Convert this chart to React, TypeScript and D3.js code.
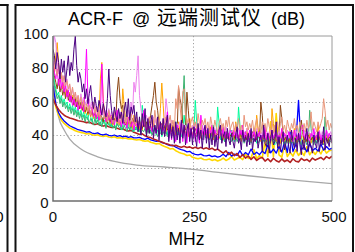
import * as d3 from 'd3';

const WIDTH = 355;
const HEIGHT = 252;
const MARGIN = { top: 36, right: 23, bottom: 51, left: 53 };
const FONT = "'Liberation Sans', Arial, 'Noto Sans CJK SC', sans-serif";

const TITLE_PARTS = ['ACR-F', '@', '远端测试仪', '(dB)'];
const X_LABEL = 'MHz';

const F_MAX = 500; // every trace runs evenly from 0 to F_MAX MHz
const X_TICKS = [0, 250, 500];
const Y_TICKS = [0, 20, 40, 60, 80, 100];
const GRID_X = [250];
const GRID_Y = [20, 40, 60, 80];

// limit line (gray)
const LIMIT_F = [0.5, 3, 10, 20, 30, 50, 80, 110, 150, 200, 250, 300, 350, 400, 450, 500];
const LIMIT_DB = [80, 66, 51, 43, 37.5, 31.5, 26.8, 24, 21.8, 20.6, 19.2, 17.2, 15.3, 13.6, 12, 10.5];

// lower, smoother traces: one value every 5 MHz
const GOLD = [68, 57, 52, 49, 47, 45.5, 44.2, 43.5, 42.6, 42, 41.6, 41.2, 40.6, 40.9, 40.1, 39.8, 40.2, 39.4, 39.1, 39.5, 38.8, 38.5, 38.9, 38.2, 38.4, 37.9, 38.2, 37.6, 37.8, 37.3, 37, 37.3, 36.6, 36.2, 36.5, 35.6, 35.1, 34.6, 34.9, 33.8, 33, 32.4, 31.5, 31.8, 30.5, 29.6, 29, 28.5, 27.6, 27.9, 26.5, 26, 25.6, 26.1, 25.2, 25, 25.5, 24.6, 25.1, 24.3, 24.8, 26, 24.6, 25.4, 27, 24.9, 25.7, 26.5, 25.1, 28.5, 25.8, 26.3, 31, 25.7, 27.5, 26.2, 36, 27, 48, 26.8, 53, 28, 26.5, 34, 27, 29.5, 27.2, 31, 27.6, 30, 27.5, 33, 28, 30.5, 28.2, 31, 28.6, 32, 29, 30.5, 31];
const BLUE = [70, 59, 53.5, 50.5, 48.5, 47, 45.6, 44.8, 44, 43.2, 42.8, 42.3, 41.8, 42, 41.2, 40.9, 41.3, 40.4, 40.1, 40.6, 39.8, 39.5, 40, 39.2, 39.6, 38.9, 39.3, 38.6, 39, 38.3, 38.2, 38.6, 37.8, 37.4, 38.1, 37, 36.6, 36.1, 36.5, 35.4, 35, 34.2, 33.6, 33.8, 32.6, 31.8, 31.2, 30.7, 29.8, 30.1, 28.8, 28.2, 27.9, 28.4, 27.5, 27.3, 27.8, 26.9, 27.4, 26.6, 27.1, 28.3, 26.9, 29.5, 27.2, 28.4, 27.6, 30.5, 27.5, 29.4, 28, 31.5, 28.2, 29.6, 28.1, 30.2, 28.8, 34, 29.2, 31.5, 29, 33, 29.6, 36, 29.4, 42, 30, 34, 61, 31, 33, 29.8, 35, 30.4, 32, 30.2, 34.5, 30.8, 33, 31.2, 32];
const FIREBRICK = [62, 58, 55.5, 53.5, 52, 51, 50.3, 49.8, 49.2, 48.6, 48.3, 48, 47.5, 47.8, 47, 46.4, 46.8, 45.9, 45.4, 45.8, 45, 44.6, 44.9, 44.1, 43.5, 43.8, 42.9, 42.4, 42.8, 41.6, 41, 40.3, 40.7, 39.5, 38.8, 38.4, 37.6, 37, 36.2, 35.8, 35, 34.6, 34, 33.5, 33.8, 33, 32.6, 33.2, 32.4, 32.8, 32, 32.6, 31.8, 32.5, 31.6, 32.2, 31.4, 32, 30.8, 31.5, 30.2, 29, 30.4, 28.1, 29.6, 27.5, 28.8, 26.4, 28.2, 26, 27.3, 25.2, 26.8, 24.6, 25.9, 26.4, 24.2, 25.6, 23.8, 25.9, 24.4, 23.6, 25.5, 23.9, 24.8, 23.4, 25.6, 24.1, 23.7, 25.8, 24.6, 25.2, 23.9, 26, 24.8, 25.6, 26.4, 25, 26.9, 25.8, 27.2];

// noisy upper traces: one value every 2.5 MHz
const SPRING = [
  78, 72, 68, 64, 66, 61, 64, 59, 62, 58, 60, 56, 59, 55, 58, 54, 57, 53, 56, 52,
  55, 51, 54, 50, 53, 49, 55, 51, 48, 52, 50, 47, 51, 48, 46, 50, 47, 49, 45, 48,
  46, 49, 45, 52, 47, 44, 48, 45, 47, 43, 46, 55, 48, 44, 47, 43, 46, 44, 42, 45,
  43, 46, 42, 45, 58, 50, 44, 47, 42, 45, 41, 44, 42, 46, 40, 43, 41, 45, 39, 44,
  41, 43, 40, 46, 42, 39, 44, 41, 48, 42, 40, 43, 39, 42, 52, 45, 40, 43, 38, 42,
  39, 43, 61, 48, 41, 38, 43, 40, 37, 42, 38, 41, 37, 42, 39, 46, 40, 37, 57, 48,
  37, 41, 39, 36, 42, 38, 40, 37, 43, 39, 36, 40, 38, 57, 46, 37, 40, 36, 42, 38,
  39, 36, 41, 37, 44, 38, 35, 40, 37, 39, 35, 41, 38, 36, 39, 35, 40, 37, 39, 34,
  43, 38, 35, 39, 36, 38, 34, 40, 36, 38, 35, 39, 37, 40, 35, 38, 36, 47, 40, 35,
  39, 36, 42, 37, 35, 38, 36, 40, 37, 35, 40, 37, 39, 36, 38, 41, 37, 39, 36, 38, 37,
];
const SEAGREEN = [
  75, 70, 66, 62, 64, 59, 62, 57, 60, 56, 58, 54, 57, 53, 56, 52, 55, 51, 54, 50,
  53, 49, 52, 48, 51, 50, 47, 50, 49, 46, 50, 47, 49, 46, 48, 45, 49, 47, 44, 48,
  47, 45, 48, 44, 46, 43, 47, 45, 44, 46, 43, 46, 44, 42, 45, 43, 46, 42, 44, 43,
  45, 42, 44, 41, 43, 42, 44, 40, 43, 41, 43, 40, 42, 44, 41, 39, 43, 41, 40, 42,
  40, 42, 39, 41, 43, 40, 42, 38, 41, 40, 42, 39, 45, 60, 76, 52, 41, 43, 39, 42,
  40, 38, 41, 39, 42, 38, 40, 37, 41, 39, 38, 40, 37, 39, 41, 38, 40, 36, 39, 38,
  40, 37, 39, 36, 40, 38, 37, 39, 36, 38, 37, 39, 36, 38, 40, 37, 39, 35, 38, 37,
  36, 38, 35, 39, 37, 36, 38, 35, 37, 39, 35, 37, 36, 38, 34, 37, 36, 38, 35, 37,
  36, 34, 37, 35, 38, 36, 34, 37, 35, 36, 37, 35, 36, 34, 38, 35, 37, 36, 34, 37,
  35, 37, 34, 36, 55, 44, 36, 34, 37, 35, 36, 38, 35, 37, 34, 51, 42, 35, 37, 36, 36,
];
const ORANGE = [
  82, 78, 88, 96, 84, 72, 76, 68, 72, 64, 68, 63, 66, 61, 64, 59, 63, 58, 62, 56,
  60, 55, 59, 53, 57, 52, 56, 51, 55, 50, 54, 50, 53, 49, 74, 84, 62, 52, 48, 53,
  51, 47, 50, 46, 49, 52, 47, 50, 46, 48, 68, 58, 50, 46, 49, 45, 48, 44, 52, 46,
  45, 48, 44, 47, 43, 49, 45, 43, 47, 44, 46, 43, 50, 44, 42, 46, 43, 56, 71.5, 58,
  44, 42, 46, 43, 41, 45, 42, 44, 40, 45, 48, 42, 44, 40, 43, 41, 45, 39, 50, 44,
  40, 43, 39, 42, 46, 40, 38, 42, 40, 44, 39, 42, 38, 45, 40, 37, 41, 39, 43, 38,
  41, 44, 37, 40, 38, 42, 37, 40, 39, 43, 37, 48, 42, 38, 40, 36, 41, 39, 37, 44,
  38, 40, 36, 39, 41, 37, 52, 44, 38, 36, 39, 37, 43, 36, 40, 38, 35, 56, 47, 39,
  36, 39, 37, 35, 42, 38, 36, 39, 37, 35, 40, 36, 38, 44, 37, 35, 39, 36, 38, 41,
  35, 38, 36, 37, 41, 35, 38, 36, 39, 37, 46, 40, 36, 38, 35, 37, 39, 36, 40, 38, 35,
];
const BROWN = [
  80, 76, 72, 68, 74, 66, 70, 64, 68, 62, 67, 61, 65, 60, 63, 58, 62, 57, 61, 56,
  60, 55, 58, 54, 57, 53, 56, 52, 55, 51, 54, 50, 53, 49, 52, 51, 48, 53, 50, 47,
  52, 48, 51, 47, 50, 49, 66, 75, 62, 56, 58, 48, 46, 51, 47, 49, 45, 50, 48, 46,
  49, 45, 48, 46, 44, 47, 45, 48, 43, 47, 52, 58, 64, 72, 60, 55, 46, 44, 47, 43,
  45, 47, 43, 46, 44, 42, 46, 43, 45, 42, 69, 62, 58, 47, 45, 43, 66, 55, 44, 42,
  45, 42, 44, 41, 43, 40, 44, 41, 42, 40, 43, 41, 44, 40, 42, 39, 43, 41, 40, 42,
  40, 43, 39, 41, 42, 38, 41, 40, 39, 42, 38, 41, 40, 37, 42, 39, 41, 38, 40, 37,
  41, 39, 38, 42, 39, 40, 37, 41, 38, 60, 52, 38, 40, 37, 41, 39, 38, 40, 37, 39,
  41, 38, 36, 58, 50, 40, 37, 39, 38, 36, 40, 37, 39, 38, 36, 40, 37, 39, 49, 42,
  37, 39, 36, 40, 38, 37, 39, 36, 38, 40, 36, 39, 37, 38, 36, 40, 37, 35, 39, 38, 37,
];
const VIOLET = [
  92, 100, 96, 84, 77, 82, 70, 76, 72, 68, 74, 66, 70, 64, 68, 62, 66, 61, 64, 59,
  65, 60, 63, 58, 61, 57, 62, 56, 60, 55, 59, 54, 57, 53, 58, 52, 56, 51, 55, 53,
  56, 51, 54, 50, 55, 49, 52, 50, 54, 48, 53, 49, 51, 48, 55, 50, 60, 52, 72, 66,
  76, 88, 64, 56, 50, 53, 48, 52, 47, 51, 48, 46, 51, 47, 50, 45, 49, 47, 44, 50,
  46, 62, 55, 47, 44, 49, 46, 48, 43, 47, 45, 48, 43, 47, 44, 46, 42, 48, 45, 43,
  46, 43, 47, 42, 45, 44, 41, 46, 43, 45, 41, 45, 43, 40, 46, 42, 44, 41, 43, 39,
  44, 41, 43, 40, 45, 42, 39, 44, 41, 43, 40, 42, 39, 44, 41, 43, 38, 42, 40, 44,
  41, 39, 43, 40, 42, 38, 44, 41, 39, 42, 40, 43, 38, 41, 42, 39, 44, 40, 38, 42,
  41, 39, 43, 40, 38, 42, 41, 39, 43, 40, 38, 42, 41, 39, 44, 40, 38, 42, 41, 39,
  43, 40, 38, 42, 41, 39, 44, 40, 42, 39, 41, 43, 38, 42, 40, 39, 43, 41, 39, 42, 40,
];
const MAGENTA = [
  85, 78, 74, 80, 70, 76, 68, 72, 66, 70, 63, 67, 60, 64, 58, 62, 57, 61, 55, 59,
  56, 60, 54, 70, 92, 64, 55, 52, 57, 51, 55, 50, 54, 49, 53, 83, 60, 51, 48, 53,
  49, 52, 47, 51, 46, 50, 55, 47, 49, 45, 50, 46, 48, 44, 51, 47, 45, 49, 43, 48,
  46, 44, 49, 43, 47, 55, 45, 42, 48, 44, 46, 42, 47, 44, 41, 46, 43, 48, 42, 45,
  40, 47, 54, 38, 46, 37, 45, 41, 36, 46, 44, 37, 47, 36, 45, 40, 35, 46, 38, 44,
  38, 45, 36, 44, 40, 35, 52, 43, 37, 45, 42, 38, 44, 41, 46, 39, 43, 40, 37, 44,
  41, 39, 45, 38, 42, 40, 37, 43, 41, 39, 44, 38, 41, 37, 43, 40, 46, 38, 42, 39,
  37, 43, 40, 38, 44, 36, 41, 39, 42, 37, 40, 38, 45, 37, 41, 39, 36, 43, 38, 40,
  42, 37, 40, 38, 44, 36, 41, 39, 37, 42, 38, 40, 36, 43, 39, 37, 41, 38, 45, 46,
  40, 37, 42, 38, 36, 41, 39, 44, 37, 40, 38, 42, 36, 40, 39, 37, 43, 38, 41, 39, 40,
];
const SALMON = [
  88, 84, 80, 76, 82, 74, 78, 72, 76, 70, 73, 68, 71, 64, 69, 62, 66, 60, 64, 58,
  63, 57, 61, 55, 59, 54, 58, 52, 56, 60, 53, 57, 51, 55, 49, 54, 58, 50, 53, 48,
  55, 50, 52, 47, 54, 49, 51, 46, 53, 48, 50, 56, 47, 52, 49, 45, 53, 48, 51, 46,
  51, 47, 49, 45, 52, 46, 50, 44, 48, 51, 46, 49, 45, 55, 48, 44, 50, 46, 43, 49,
  47, 51, 44, 48, 52, 45, 49, 43, 62, 56, 70, 58, 49, 66, 68, 52, 47, 50, 44, 48,
  51, 45, 48, 44, 53, 47, 43, 49, 46, 50, 44, 48, 42, 51, 46, 43, 49, 45, 41, 47,
  50, 44, 47, 42, 49, 45, 51, 43, 46, 48, 42, 47, 44, 50, 43, 46, 41, 52, 45, 48,
  43, 47, 44, 49, 42, 46, 50, 43, 45, 41, 48, 44, 47, 42, 50, 45, 43, 49, 41, 46,
  44, 48, 42, 47, 51, 43, 46, 41, 49, 45, 42, 47, 44, 50, 43, 46, 41, 48, 45, 43,
  47, 42, 49, 44, 46, 54, 43, 48, 45, 42, 48, 44, 47, 50, 62, 55, 45, 49, 43, 47, 44,
];
const INDIGO = [
  92, 88, 80, 90, 84, 74, 86, 78, 85, 72, 80, 88, 76, 84, 79, 92, 100, 82, 72, 78,
  74, 66, 71, 62, 68, 59, 65, 70, 61, 56, 63, 58, 54, 61, 57, 52, 59, 55, 51, 62,
  80, 64, 55, 49, 57, 52, 48, 56, 50, 54, 47, 55, 60, 51, 62, 49, 57, 53, 58, 48,
  54, 42, 51, 40, 53, 45, 56, 39, 50, 41, 47, 52, 38, 46, 41, 51, 37, 48, 40, 50,
  39, 46, 52, 36, 47, 38, 45, 35, 48, 37, 44, 35, 49, 38, 46, 34, 43, 47, 36, 44,
  34, 45, 39, 33, 47, 37, 43, 32, 42, 46, 35, 44, 32, 41, 34, 45, 33, 40, 31, 43,
  46, 35, 39, 42, 33, 44, 37, 34, 41, 36, 32, 40, 45, 35, 38, 31, 43, 36, 39, 33,
  41, 34, 44, 31, 38, 36, 42, 32, 37, 40, 30, 46, 35, 33, 41, 29, 38, 43, 34, 36,
  48, 32, 39, 30, 37, 42, 31, 35, 40, 33, 29, 43, 36, 32, 38, 30, 41, 34, 28, 37,
  31, 39, 44, 30, 36, 33, 29, 40, 35, 32, 42, 30, 37, 34, 45, 31, 38, 36, 33, 40, 35,
];

const SERIES = [
  { color: '#ffd700', values: GOLD, width: 1.6 },
  { color: '#0000ff', values: BLUE, width: 1.3 },
  { color: '#b22222', values: FIREBRICK, width: 1.6 },
  { color: '#00fa9a', values: SPRING, width: 1 },
  { color: '#3cb371', values: SEAGREEN, width: 1 },
  { color: '#ffa500', values: ORANGE, width: 1 },
  { color: '#8b4513', values: BROWN, width: 1 },
  { color: '#ee82ee', values: VIOLET, width: 1 },
  { color: '#ff00ff', values: MAGENTA, width: 1 },
  { color: '#e9967a', values: SALMON, width: 1 },
  { color: '#4b0082', values: INDIGO, width: 1 },
];

export default function App() {
  const x = d3.scaleLinear().domain([0, F_MAX]).range([MARGIN.left, WIDTH - MARGIN.right]);
  const y = d3.scaleLinear().domain([0, 100]).range([HEIGHT - MARGIN.bottom, MARGIN.top]);
  // tick labels sit a little wider apart than the ticks
  const yLabel = d3.scaleLinear().domain([0, 100]).range([203, 33.5]);
  const x0 = MARGIN.left;
  const x1 = WIDTH - MARGIN.right;
  const y0 = HEIGHT - MARGIN.bottom;
  const y1 = MARGIN.top;

  const trace = (values: number[]) => {
    const step = F_MAX / (values.length - 1);
    return d3.line<number>()
      .x((_, i) => x(i * step))
      .y((d) => y(d))(values) || '';
  };

  const limit = d3.line<number>()
    .x((_, i) => x(LIMIT_F[i]))
    .y((d) => y(d))
    .curve(d3.curveMonotoneX);

  return (
    <svg
      width={WIDTH}
      height={HEIGHT}
      style={{ position: 'absolute', left: 0, top: 0, background: '#fff' }}
      fontFamily={FONT}
    >
      <defs>
        <clipPath id="plot">
          <rect x={x0} y={y1} width={x1 - x0} height={y0 - y1} />
        </clipPath>
      </defs>

      {/* neighbouring panel edge */}
      <line x1={7.5} x2={7.5} y1={4} y2={HEIGHT} stroke="#111" strokeWidth={2} />
      <line x1={0} x2={8.5} y1={5} y2={5} stroke="#111" strokeWidth={2} />
      <text x={3.5} y={221.5} fontSize={15} textAnchor="end">500</text>

      {/* panel frame */}
      <path d={`M15.5,${HEIGHT + 2}V5H353V${HEIGHT + 2}`} fill="none" stroke="#111" strokeWidth={2} />

      <text y={25} fontSize={18}>
        <tspan x={68}>{TITLE_PARTS[0]}</tspan>
        <tspan x={132}>{TITLE_PARTS[1]}</tspan>
        <tspan x={157} fontSize={20} letterSpacing={1}>{TITLE_PARTS[2]}</tspan>
        <tspan x={271}>{TITLE_PARTS[3]}</tspan>
      </text>

      <g stroke="#a0a0a0" strokeWidth={1} strokeDasharray="1.2,2.3">
        {GRID_Y.map((v) => (
          <line key={v} x1={x0} x2={x1} y1={Math.round(y(v)) + 0.5} y2={Math.round(y(v)) + 0.5} />
        ))}
        {GRID_X.map((v) => (
          <line key={v} x1={Math.round(x(v)) + 0.5} x2={Math.round(x(v)) + 0.5} y1={y1} y2={y0} />
        ))}
      </g>

      <g clipPath="url(#plot)" fill="none" strokeLinejoin="round">
        <path d={limit(LIMIT_DB) || ''} stroke="#a8a8a8" strokeWidth={1.3} />
        {SERIES.map((s) => (
          <path key={s.color} d={trace(s.values)} stroke={s.color} strokeWidth={s.width} />
        ))}
      </g>

      <path d={`M${x0},${y1}H${x1}V${y0}`} fill="none" stroke="#9a9a9a" strokeWidth={1} />
      <path d={`M${x0},${y1}V${y0}H${x1}`} fill="none" stroke="#6e6e6e" strokeWidth={1.5} />

      <g fontSize={15} fill="#111">
        {Y_TICKS.map((v) => (
          <text key={v} x={48.5} y={yLabel(v)} dy="0.35em" textAnchor="end">{v}</text>
        ))}
        {X_TICKS.map((v) => (
          <text key={v} x={x(v) + (v === 0 ? 0 : 2)} y={221.5} textAnchor="middle">{v}</text>
        ))}
      </g>

      <text x={186.5} y={245} fontSize={17.5} textAnchor="middle">{X_LABEL}</text>
    </svg>
  );
}
